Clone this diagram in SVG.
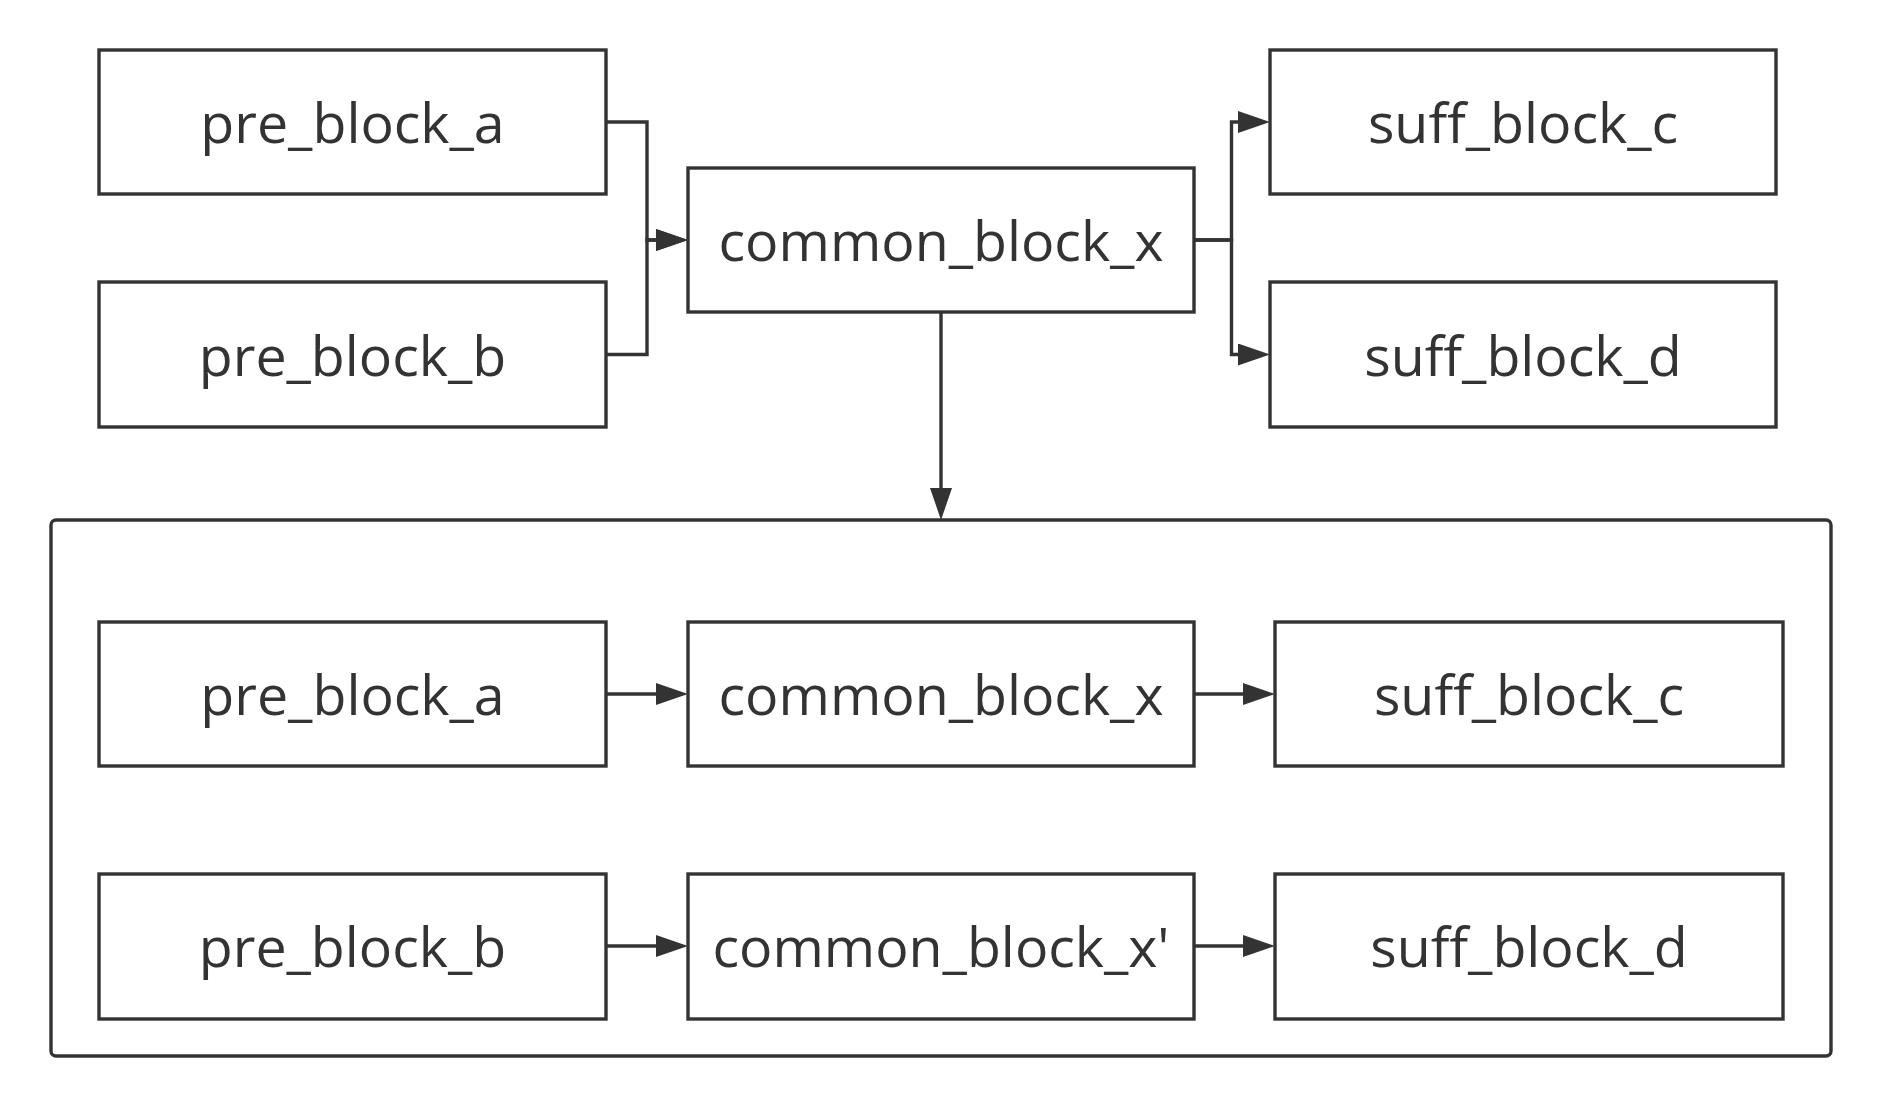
<svg xmlns="http://www.w3.org/2000/svg" width="1882" height="1106" viewBox="0 0 1882 1106">
<style>
.box{fill:#ffffff;stroke:#333333;stroke-width:3.4}
.frame{fill:none;stroke:#333333;stroke-width:3.4}
.lbl{font-family:"Open Sans","Noto Sans",sans-serif;font-size:55.5px;fill:#333333;text-anchor:middle}
.conn{fill:none;stroke:#333333;stroke-width:3.4;marker-end:url(#arrow)}
</style>
<defs>
<marker id="arrow" markerUnits="userSpaceOnUse" markerWidth="32" markerHeight="22" refX="0" refY="11" orient="auto" viewBox="0 0 32 22">
<path d="M0,0 L32,11 L0,22 Z" fill="#333333"/>
</marker>
</defs>
<rect width="1882" height="1106" fill="#ffffff"/>
<g id="container">
<rect class="frame" x="51" y="520" width="1780" height="536" rx="5"/>
</g>
<g id="top_pre_block_a"><rect class="box" x="99" y="50" width="507" height="144"/><text class="lbl" x="352.5" y="143">pre_block_a</text></g>
<g id="top_pre_block_b"><rect class="box" x="99" y="282" width="507" height="145"/><text class="lbl" x="352.5" y="376">pre_block_b</text></g>
<g id="top_common_block_x"><rect class="box" x="688" y="168" width="506" height="144"/><text class="lbl" x="941" y="261">common_block_x</text></g>
<g id="top_suff_block_c"><rect class="box" x="1270" y="50" width="506" height="144"/><text class="lbl" x="1523" y="143">suff_block_c</text></g>
<g id="top_suff_block_d"><rect class="box" x="1270" y="282" width="506" height="145"/><text class="lbl" x="1523" y="376">suff_block_d</text></g>
<g id="row1_pre_block_a"><rect class="box" x="99" y="622" width="507" height="144"/><text class="lbl" x="352.5" y="715">pre_block_a</text></g>
<g id="row1_common_block_x"><rect class="box" x="688" y="622" width="506" height="144"/><text class="lbl" x="941" y="715">common_block_x</text></g>
<g id="row1_suff_block_c"><rect class="box" x="1275" y="622" width="508" height="144"/><text class="lbl" x="1529" y="715">suff_block_c</text></g>
<g id="row2_pre_block_b"><rect class="box" x="99" y="874" width="507" height="145"/><text class="lbl" x="352.5" y="967">pre_block_b</text></g>
<g id="row2_common_block_x2"><rect class="box" x="688" y="874" width="506" height="145"/><text class="lbl" x="941" y="967">common_block_x'</text></g>
<g id="row2_suff_block_d"><rect class="box" x="1275" y="874" width="508" height="145"/><text class="lbl" x="1529" y="967">suff_block_d</text></g>
<g id="connectors">
<path class="conn" d="M606,122 H647 V240 H656"/>
<path class="conn" d="M606,354.5 H647 V240 H656"/>
<path class="conn" d="M1194,240 H1231.5 V122 H1238"/>
<path class="conn" d="M1194,240 H1231.5 V354.5 H1238"/>
<path class="conn" d="M941,312 V488"/>
<path class="conn" d="M606,694 H656"/>
<path class="conn" d="M1194,694 H1243"/>
<path class="conn" d="M606,946 H656"/>
<path class="conn" d="M1194,946 H1243"/>
</g>
</svg>
